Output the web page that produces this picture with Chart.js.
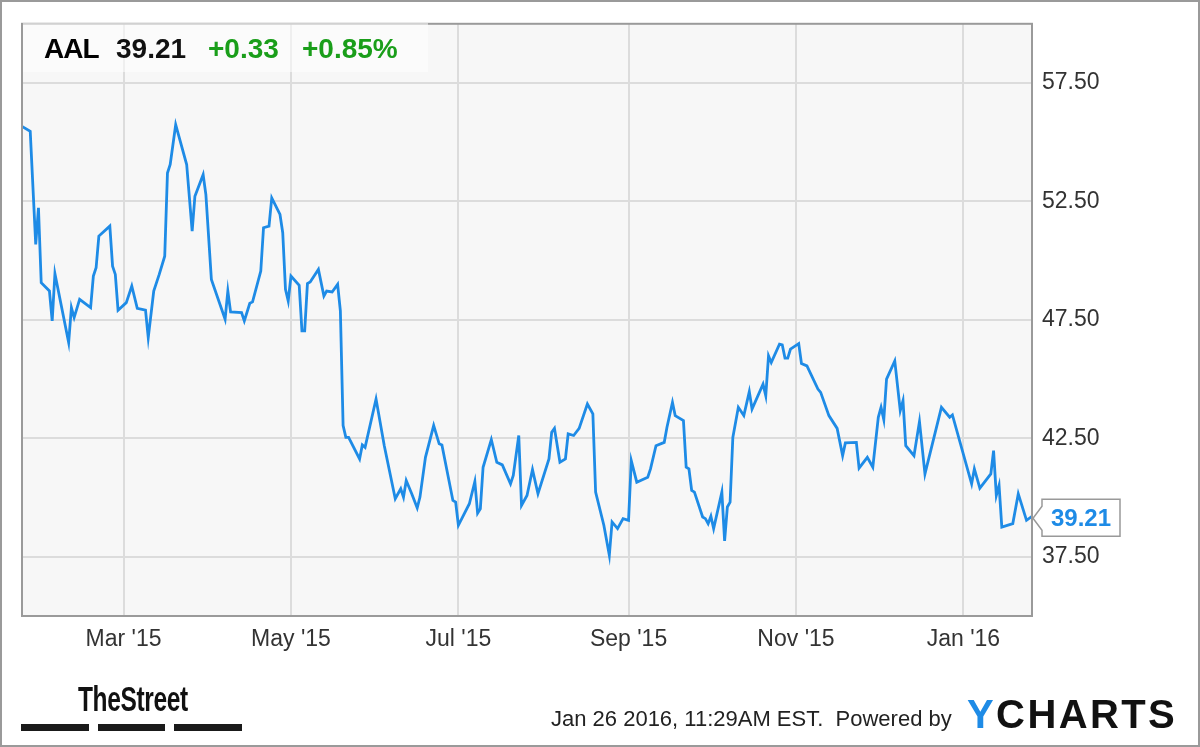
<!DOCTYPE html>
<html>
<head>
<meta charset="utf-8">
<title>AAL</title>
<script src="https://cdn.jsdelivr.net/npm/chart.js@4.4.1/dist/chart.umd.min.js"></script>
<style>
  html, body { margin: 0; padding: 0; background: #fff; }
  #wrap { position: relative; width: 1200px; height: 747px; overflow: hidden;
          font-family: "Liberation Sans", Arial, sans-serif; }
  #chart { position: absolute; left: 0; top: 0; }
  #frame { position: absolute; left: 0; top: 0; width: 1200px; height: 747px;
           box-sizing: border-box; border: 2px solid #9a9a9a; pointer-events: none; }
  #quote { position: absolute; left: 23px; top: 23px; width: 405px; height: 49px;
           background: rgba(255,255,255,0.55); }
  #quote span { position: absolute; top: 0; line-height: 52px; font-size: 28px; font-weight: bold; white-space: nowrap; }
  #quote .sym { left: 21px; color: #000; letter-spacing: -1px; }
  #quote .px { left: 93px; color: #111; }
  #quote .chg { left: 185px; color: #1a9e1a; }
  #quote .pct { left: 279px; color: #1a9e1a; }
  #street { position: absolute; left: 78px; top: 679px; font-size: 35px; line-height: 40px;
            font-weight: bold; color: #111; transform: scaleX(0.7); transform-origin: 0 0;
            letter-spacing: -0.5px; white-space: nowrap; }
  .bar { position: absolute; top: 724px; height: 7px; background: #1a1a1a; }
  #stamp { position: absolute; left: 551px; top: 706px; font-size: 22px; line-height: 26px;
           color: #222; white-space: nowrap; }
  #ylogo { position: absolute; left: 967px; top: 691px; font-size: 40px; line-height: 46px;
           font-weight: bold; color: #111; letter-spacing: 2.4px; white-space: nowrap; }
  #ylogo b { color: #1e8be6; }
</style>
</head>
<body>
<div id="wrap">
  <canvas id="chart" width="1200" height="747"></canvas>
  <div id="quote"><span class="sym">AAL</span><span class="px">39.21</span><span class="chg">+0.33</span><span class="pct">+0.85%</span></div>
  <div id="street">TheStreet</div>
  <div class="bar" style="left:21px;width:68px"></div>
  <div class="bar" style="left:98px;width:67px"></div>
  <div class="bar" style="left:174px;width:68px"></div>
  <div id="stamp">Jan 26 2016, 11:29AM EST.&nbsp; Powered by</div>
  <div id="ylogo"><b>Y</b>CHARTS</div>
  <div id="frame"></div>
</div>
<script>
// AAL daily close (turning points)
const dates = [
  "2015-01-23","2015-01-26","2015-01-28","2015-01-29","2015-01-30","2015-02-02","2015-02-03","2015-02-04",
  "2015-02-09","2015-02-10","2015-02-11","2015-02-13","2015-02-17","2015-02-18","2015-02-19","2015-02-20",
  "2015-02-24","2015-02-25","2015-02-26","2015-02-27","2015-03-02","2015-03-04","2015-03-06","2015-03-09",
  "2015-03-10","2015-03-12","2015-03-14","2015-03-16","2015-03-17","2015-03-18","2015-03-20","2015-03-24",
  "2015-03-26","2015-03-27","2015-03-30","2015-03-31","2015-04-02","2015-04-07","2015-04-08","2015-04-09",
  "2015-04-13","2015-04-14","2015-04-16","2015-04-17","2015-04-20","2015-04-21","2015-04-23","2015-04-24",
  "2015-04-27","2015-04-28","2015-04-29","2015-04-30","2015-05-01","2015-05-04","2015-05-05","2015-05-06",
  "2015-05-07","2015-05-08","2015-05-11","2015-05-13","2015-05-14","2015-05-16","2015-05-18","2015-05-19",
  "2015-05-20","2015-05-21","2015-05-22","2015-05-26","2015-05-27","2015-05-28","2015-06-01","2015-06-04",
  "2015-06-08","2015-06-10","2015-06-11","2015-06-12","2015-06-14","2015-06-16","2015-06-17","2015-06-19",
  "2015-06-22","2015-06-24","2015-06-25","2015-06-29","2015-06-30","2015-07-01","2015-07-05","2015-07-07",
  "2015-07-08","2015-07-09","2015-07-10","2015-07-13","2015-07-15","2015-07-17","2015-07-20","2015-07-21",
  "2015-07-23","2015-07-24","2015-07-26","2015-07-28","2015-07-30","2015-08-03","2015-08-04","2015-08-05",
  "2015-08-07","2015-08-09","2015-08-10","2015-08-12","2015-08-14","2015-08-17","2015-08-19","2015-08-20",
  "2015-08-23","2015-08-25","2015-08-26","2015-08-28","2015-08-30","2015-09-01","2015-09-02","2015-09-04",
  "2015-09-08","2015-09-09","2015-09-11","2015-09-14","2015-09-15","2015-09-17","2015-09-18","2015-09-21",
  "2015-09-22","2015-09-23","2015-09-24","2015-09-25","2015-09-28","2015-09-29","2015-09-30","2015-10-01",
  "2015-10-02","2015-10-05","2015-10-06","2015-10-07","2015-10-08","2015-10-09","2015-10-11","2015-10-13",
  "2015-10-15","2015-10-16","2015-10-20","2015-10-21","2015-10-22","2015-10-23","2015-10-26","2015-10-27",
  "2015-10-28","2015-10-29","2015-10-30","2015-11-02","2015-11-03","2015-11-05","2015-11-09","2015-11-10",
  "2015-11-13","2015-11-16","2015-11-18","2015-11-19","2015-11-23","2015-11-24","2015-11-27","2015-11-29",
  "2015-12-01","2015-12-02","2015-12-03","2015-12-04","2015-12-07","2015-12-09","2015-12-10","2015-12-11",
  "2015-12-14","2015-12-16","2015-12-18","2015-12-24","2015-12-27","2015-12-28","2016-01-04","2016-01-05",
  "2016-01-07","2016-01-11","2016-01-12","2016-01-13","2016-01-14","2016-01-15","2016-01-19","2016-01-21",
  "2016-01-24","2016-01-26"
];
const prices = [
  55.67,55.46,50.69,52.23,49.07,48.72,47.46,49.45,
  46.54,48.02,47.60,48.37,48.02,49.35,49.70,51.04,
  51.46,49.77,49.42,47.91,48.23,48.93,47.99,47.91,
  46.75,48.72,49.42,50.19,53.70,54.06,55.74,54.06,
  51.25,52.72,53.63,52.79,49.21,47.53,48.72,47.84,
  47.81,47.46,48.20,48.26,49.56,51.39,51.46,52.65,
  51.95,51.18,48.79,48.30,49.35,48.96,47.04,47.04,
  49.03,49.10,49.63,48.51,48.72,48.68,49.00,47.88,
  43.04,42.54,42.54,41.63,42.22,42.12,44.16,42.19,
  39.95,40.37,40.02,40.72,40.16,39.56,40.02,41.70,
  43.04,42.27,42.22,39.88,39.81,38.83,39.74,40.68,
  39.34,39.53,41.28,42.45,41.49,41.38,40.58,40.93,
  42.62,39.67,40.09,41.18,40.16,41.63,42.76,42.92,
  41.49,41.63,42.69,42.62,42.92,43.95,43.53,40.23,
  38.83,37.56,38.97,38.69,39.11,39.04,41.56,40.65,
  40.86,41.21,42.19,42.33,42.97,44.02,43.46,43.25,
  41.28,41.21,40.30,40.23,39.18,39.11,38.90,39.21,
  38.69,40.23,38.17,39.60,39.81,42.54,43.81,43.46,
  44.47,43.74,44.79,44.30,45.98,45.70,46.48,46.45,
  45.89,45.89,46.27,46.50,45.66,45.56,44.58,44.44,
  43.46,42.92,41.77,42.31,42.33,41.24,41.70,41.28,
  43.39,43.81,43.29,45.00,45.77,43.67,44.09,42.19,
  41.77,43.21,41.00,43.81,43.39,43.49,40.58,41.21,
  40.40,41.00,41.98,40.09,40.51,38.75,38.90,40.16,
  39.04,39.21
];
const tickDates = ["2015-03-01","2015-05-01","2015-07-01","2015-09-01","2015-11-01","2016-01-01"];
const tickLabels = ["Mar '15","May '15","Jul '15","Sep '15","Nov '15","Jan '16"];
const priceTicks = [37.5, 42.5, 47.5, 52.5, 57.5];
const startDate = "2015-01-23";
const endDate = "2016-01-26";
const lastPrice = 39.21;

function toDay(s) {
  const p = s.split("-").map(Number);
  return Date.UTC(p[0], p[1] - 1, p[2]) / 86400000;
}

const points = dates.map((d, i) => ({ x: toDay(d), y: prices[i] }));
const tickDays = tickDates.map(toDay);

Chart.defaults.font.family = '"Liberation Sans", Arial, sans-serif';

// 背景・枠線・最新値の吹き出し
const plotDeco = {
  id: "plotDeco",
  beforeDraw(chart) {
    const { ctx, chartArea: a } = chart;
    ctx.save();
    ctx.fillStyle = "#f7f7f7";
    ctx.fillRect(a.left, a.top, a.right - a.left, a.bottom - a.top);
    ctx.restore();
  },
  afterDraw(chart) {
    const { ctx, chartArea: a, scales } = chart;
    ctx.save();
    ctx.strokeStyle = "#9a9a9a";
    ctx.lineWidth = 2;
    ctx.strokeRect(a.left, a.top, a.right - a.left, a.bottom - a.top);

    const tx = a.right + 1;
    const ty = scales.y.getPixelForValue(lastPrice) + 2;
    const l = tx + 9, r = l + 78, t = ty - 19, b = ty + 18;
    ctx.beginPath();
    ctx.moveTo(l, t);
    ctx.lineTo(r, t);
    ctx.lineTo(r, b);
    ctx.lineTo(l, b);
    ctx.lineTo(l, ty + 12);
    ctx.lineTo(tx, ty);
    ctx.lineTo(l, ty - 12);
    ctx.closePath();
    ctx.fillStyle = "#fff";
    ctx.fill();
    ctx.strokeStyle = "#999";
    ctx.lineWidth = 1.5;
    ctx.stroke();
    ctx.fillStyle = "#1e8be6";
    ctx.font = 'bold 24px "Liberation Sans", Arial, sans-serif';
    ctx.textAlign = "center";
    ctx.textBaseline = "middle";
    ctx.fillText(lastPrice.toFixed(2), (l + r) / 2, ty + 1);
    ctx.restore();
  }
};

new Chart(document.getElementById("chart"), {
  type: "line",
  data: {
    datasets: [{
      data: points,
      borderColor: "#1e8be6",
      borderWidth: 2.8,
      pointRadius: 0,
      tension: 0,
      fill: false
    }]
  },
  options: {
    responsive: false,
    animation: false,
    devicePixelRatio: 1,
    layout: { padding: { left: 22, top: 21, right: 0, bottom: 0 } },
    plugins: { legend: { display: false }, tooltip: { enabled: false } },
    scales: {
      x: {
        type: "linear",
        min: toDay(startDate),
        max: toDay(endDate),
        afterBuildTicks: (s) => { s.ticks = tickDays.map(v => ({ value: v })); },
        afterFit: (s) => { s.height = 131; },
        grid: { color: "#dcdcdc", lineWidth: 2, drawTicks: false },
        border: { display: false },
        ticks: {
          autoSkip: false,
          maxRotation: 0,
          padding: 10,
          color: "#333",
          font: { size: 23 },
          callback: (v) => tickLabels[tickDays.indexOf(v)] ?? ""
        }
      },
      y: {
        position: "right",
        min: 35,
        max: 60,
        afterBuildTicks: (s) => { s.ticks = priceTicks.map(v => ({ value: v })); },
        afterFit: (s) => { s.width = 168; },
        grid: { color: "#dcdcdc", lineWidth: 2, drawTicks: false },
        border: { display: false },
        ticks: {
          padding: 10,
          color: "#333",
          font: { size: 23 },
          callback: (v) => Number(v).toFixed(2)
        }
      }
    }
  },
  plugins: [plotDeco]
});
</script>
</body>
</html>
